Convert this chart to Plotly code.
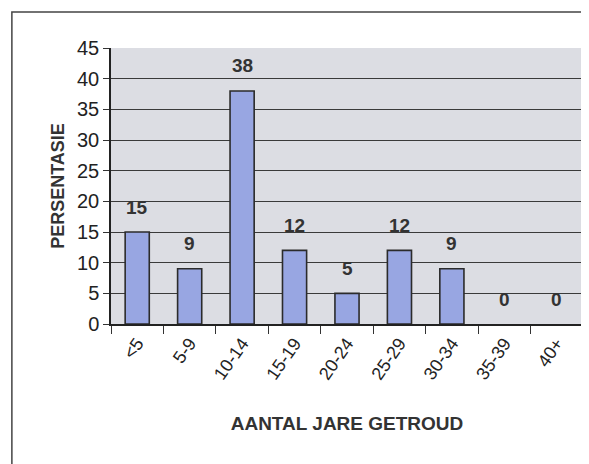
import plotly.graph_objects as go

categories = ["<5", "5-9", "10-14", "15-19", "20-24", "25-29", "30-34", "35-39", "40+"]
percentages = [15, 9, 38, 12, 5, 12, 9, 0, 0]
y_ticks = [0, 5, 10, 15, 20, 25, 30, 35, 40, 45]

FONT = "Liberation Sans, Arial, sans-serif"
INK = "#222"

# zero-height bars leave no outline in the original
outline = [1.6 if v > 0 else 0 for v in percentages]

fig = go.Figure(
    go.Bar(
        x=categories,
        y=percentages,
        width=0.46,
        marker=dict(color="#98a6e2", line=dict(color="#2b2b2b", width=outline)),
        hoverinfo="x+y",
    )
)

# value labels floating above each bar
for cat, val in zip(categories, percentages):
    fig.add_annotation(
        x=cat, y=val, text=f"<b>{val}</b>", showarrow=False,
        yshift=25, font=dict(family=FONT, size=19, color="#333"),
    )

# outer chart frame: only left and top edges are visible in the scan
fig.add_shape(
    type="path", xref="paper", yref="paper",
    path="M 1.3,1.13 L -0.21,1.13 L -0.21,-0.8",
    line=dict(color="#444", width=1.5), layer="below",
)

fig.update_layout(
    width=589, height=464,
    margin=dict(l=103, r=14, t=40, b=148),
    paper_bgcolor="white",
    plot_bgcolor="#dcdde3",
    showlegend=False,
    font=dict(family=FONT, color=INK),
)
fig.update_xaxes(
    type="category",
    tickangle=-55,
    tickson="boundaries",
    ticks="outside", ticklen=8, tickcolor="#333",
    showline=True, linecolor="#222", linewidth=1.5,
    showgrid=False,
    tickfont=dict(family=FONT, size=18, color=INK),
    title=dict(text="<b>AANTAL JARE GETROUD</b>", font=dict(family=FONT, size=19, color="#333"), standoff=34),
)
fig.update_yaxes(
    range=[0, 45],
    tickvals=y_ticks,
    ticks="outside", ticklen=6, tickcolor="#333",
    showline=True, linecolor="#222", linewidth=1.5,
    showgrid=True, gridcolor="#3a3a3a", gridwidth=1,
    zeroline=False,
    tickfont=dict(family=FONT, size=20, color=INK),
    title=dict(text="<b>PERSENTASIE</b>", font=dict(family=FONT, size=18, color="#333"), standoff=8),
)

fig.write_html("out.html")
